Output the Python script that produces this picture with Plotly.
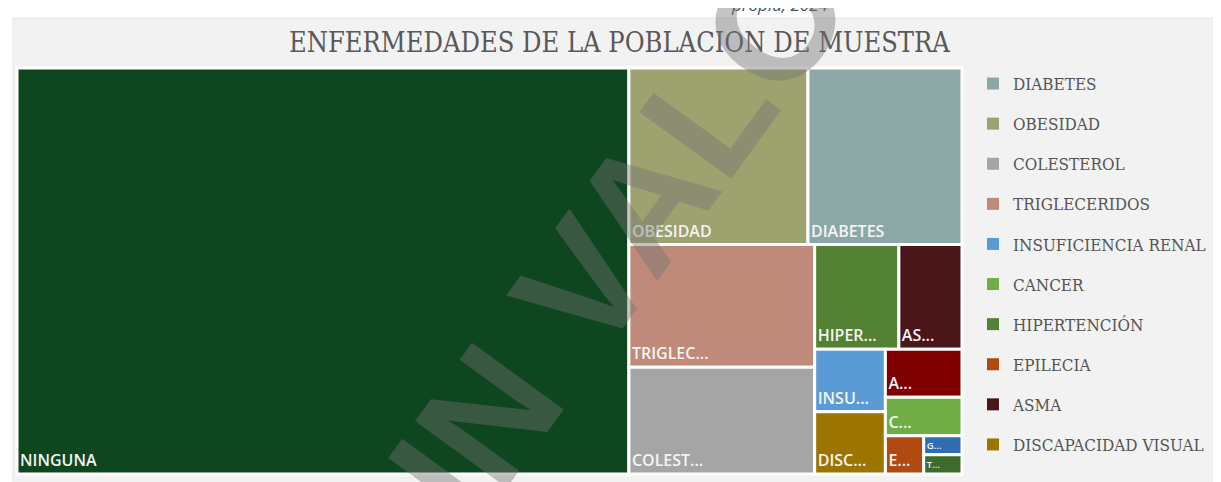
import plotly.graph_objects as go

# ---- data ----
labels = ["NINGUNA", "OBESIDAD", "DIABETES", "TRIGLECERIDOS", "COLESTEROL",
          "HIPERTENCIÓN", "ASMA", "INSUFICIENCIA RENAL", "DISCAPACIDAD VISUAL",
          "ARTRITIS", "CANCER", "EPILECIA", "GASTRITIS", "TIROIDES"]
values = [338, 43, 37, 31, 27, 12, 9, 6, 6, 5, 4, 2, 1, 1]
display_text = ["NINGUNA", "OBESIDAD", "DIABETES", "TRIGLEC...", "COLEST...",
                "HIPER...", "AS...", "INSU...", "DISC...", "A...", "C...", "E...", "G...", "T..."]
colors = ["#0e4620", "#9da26f", "#8ca8a6", "#c08a7a", "#a5a5a5",
          "#548235", "#4a1619", "#5b9bd5", "#9c7400", "#7f0000",
          "#70ad47", "#b04a12", "#2e6eb0", "#3d6b2c"]
legend_order = ["DIABETES", "OBESIDAD", "COLESTEROL", "TRIGLECERIDOS", "INSUFICIENCIA RENAL",
                "CANCER", "HIPERTENCIÓN", "EPILECIA", "ASMA", "DISCAPACIDAD VISUAL"]
title_text = "ENFERMEDADES DE LA POBLACION DE MUESTRA"
caption_text = "propia, 2024"
watermark_text = "SIN VALOR"

W, H = 1221, 482
color_of = dict(zip(labels, colors))

fig = go.Figure()
fig.add_trace(go.Treemap(
    labels=labels,
    parents=[""] * len(labels),
    values=values,
    customdata=display_text,
    texttemplate="%{customdata}",
    textposition="bottom left",
    textfont=dict(family="Open Sans", size=16, color="#f4f4f4", weight=600),
    marker=dict(colors=colors, line=dict(color="white", width=3),
                pad=dict(t=0, l=0, r=0, b=0)),
    sort=True,
    pathbar=dict(visible=False),
    tiling=dict(packing="squarify", pad=0),
    domain=dict(x=[9 / W, 954 / W], y=[1 - 466 / H, 1 - 60 / H]),
    hoverinfo="label+value",
))

for i, name in enumerate(legend_order):
    fig.add_trace(go.Scatter(
        x=[None], y=[None], mode="markers", name=name,
        legendgroup=f"g{i}",
        marker=dict(symbol="square", size=10, color=color_of[name]),
        showlegend=True,
    ))

fig.update_layout(
    width=W, height=H,
    margin=dict(l=0, r=0, t=0, b=0),
    paper_bgcolor="white",
    plot_bgcolor="rgba(0,0,0,0)",
    xaxis=dict(visible=False),
    yaxis=dict(visible=False),
    legend=dict(
        x=965 / W, y=1 - 58 / H, xanchor="left", yanchor="top",
        font=dict(family="DejaVu Serif Condensed, DejaVu Serif", size=17, color="#555555"),
        tracegroupgap=15, bgcolor="rgba(0,0,0,0)", itemsizing="constant",
    ),
    shapes=[dict(type="rect", xref="paper", yref="paper",
                 x0=5 / W, x1=1, y0=0, y1=1 - 10 / H,
                 fillcolor="#f2f2f2", line=dict(color="#e6e6e6", width=1), layer="below")],
    annotations=[
        dict(text=title_text, x=611 / W, y=1 - 35 / H, xref="paper", yref="paper",
             xanchor="center", yanchor="middle", showarrow=False,
             font=dict(family="DejaVu Serif Condensed, DejaVu Serif", size=27, color="#595959")),
        dict(text=caption_text, x=772 / W, y=1 + 4 / H, xref="paper", yref="paper",
             xanchor="center", yanchor="middle", showarrow=False,
             font=dict(family="Open Sans", size=17, color="#44546a", style="italic")),
        dict(text="<b>" + watermark_text + "</b>", x=615 / W, y=1 - 223 / H, xref="paper", yref="paper",
             xanchor="center", yanchor="middle", showarrow=False, textangle=-54,
             font=dict(family="Liberation Sans", size=165, color="rgba(115,115,115,0.42)")),
    ],
)

fig.write_html("out.html")
